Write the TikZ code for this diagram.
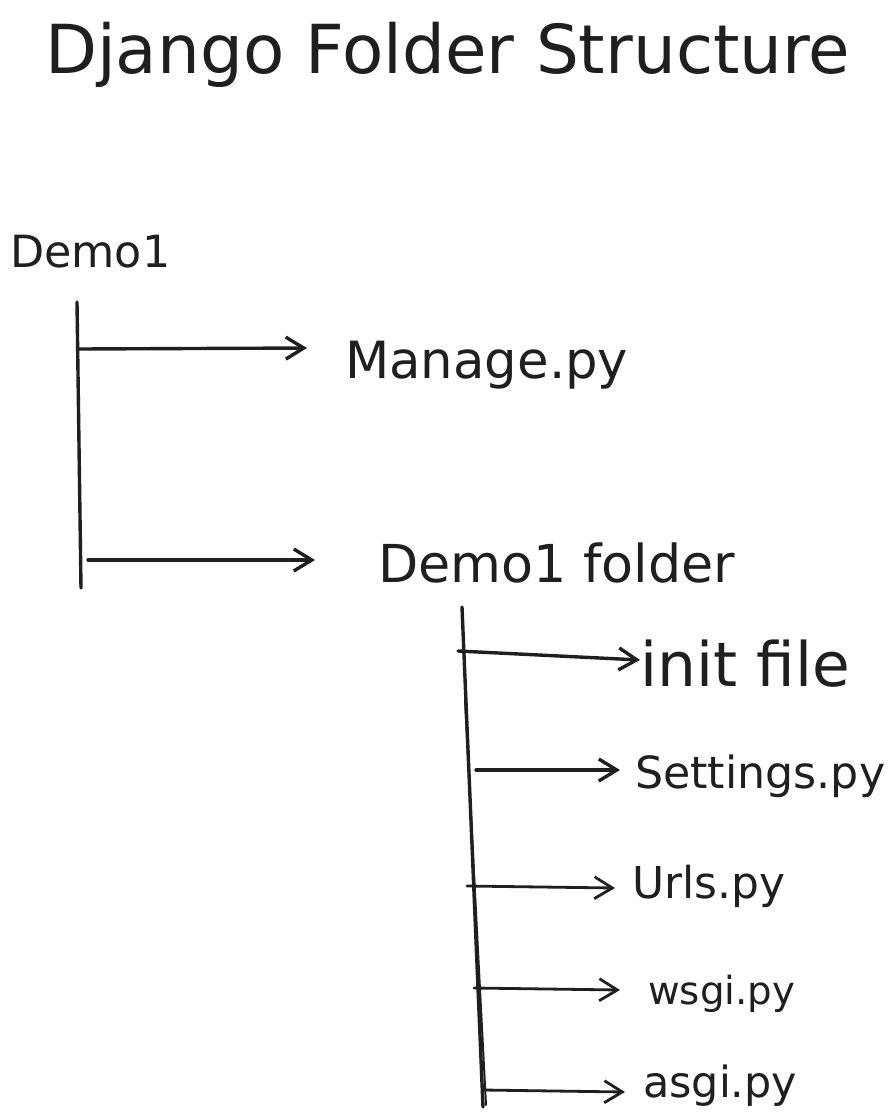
\documentclass[tikz,border=0pt]{standalone}
\usepackage{fontspec}
\setmainfont{DejaVu Sans}
\usetikzlibrary{arrows.meta}
\newcommand\fitw[2]{\resizebox{#1}{!}{#2}}
\begin{document}
\begin{tikzpicture}[x=1pt,y=-1pt]
\tikzset{
  lbl/.style={anchor=base west,inner sep=0pt,text=black!88},
  pen/.style={draw=black!88,line width=3.4pt,line cap=round},
  arr/.style={pen,-{Straight Barb[length=18pt,width=22pt]}}}
\useasboundingbox (0,0) rectangle (894,1120);
\fill[white] (0,0) rectangle (894,1120);
% texts
\node[lbl] (title) at (45,73) {\fitw{805pt}{Django Folder Structure}};
\node[lbl] (demo) at (10,267) {\fitw{160pt}{Demo1}};
\node[lbl] (manage) at (345,378) {\fitw{283pt}{Manage.py}};
\node[lbl] (folder) at (378,582) {\fitw{357pt}{Demo1 folder}};
\node[lbl] (init) at (640,686) {\fitw{210pt}{init file}};
\node[lbl] (settings) at (635,788) {\fitw{250pt}{Settings.py}};
\node[lbl] (urls) at (632,898) {\fitw{153pt}{Urls.py}};
\node[lbl] (wsgi) at (648,1004) {\fitw{147pt}{wsgi.py}};
\node[lbl] (asgi) at (643,1097) {\fitw{154pt}{asgi.py}};
% trunk 1
\coordinate (t1a) at (77,302);
\coordinate (t1b) at (81,588);
\draw[pen] (t1a) -- (t1b);
\coordinate (a1s) at (79,349);
\coordinate (a1e) at (307,348);
\coordinate (a2s) at (88,560);
\coordinate (a2e) at (315,560);
\draw[arr] (a1s) -- (a1e);
\draw[arr] (a2s) -- (a2e);
% trunk 2 (double stroke)
\coordinate (t2a) at (462,607);
\coordinate (t2b) at (483,1107);
\coordinate (t2c) at (465,700);
\coordinate (t2d) at (486,1105);
\draw[pen] (t2a) -- (t2b);
\draw[pen,line width=2pt] (t2c) -- (t2d);
\coordinate (b1s) at (458,651);
\coordinate (b1e) at (640,660);
\coordinate (b2s) at (476,770);
\coordinate (b2e) at (620,770);
\coordinate (b3s) at (467,886);
\coordinate (b3e) at (615,888);
\coordinate (b4s) at (474,988);
\coordinate (b4e) at (620,990);
\coordinate (b5s) at (483,1090);
\coordinate (b5e) at (625,1092);
\draw[arr] (b1s) -- (b1e);
\draw[arr] (b2s) -- (b2e);
\draw[arr,line width=2.8pt] (b3s) -- (b3e);
\draw[arr,line width=2.8pt] (b4s) -- (b4e);
\draw[arr,line width=2.8pt] (b5s) -- (b5e);
\end{tikzpicture}
\end{document}
